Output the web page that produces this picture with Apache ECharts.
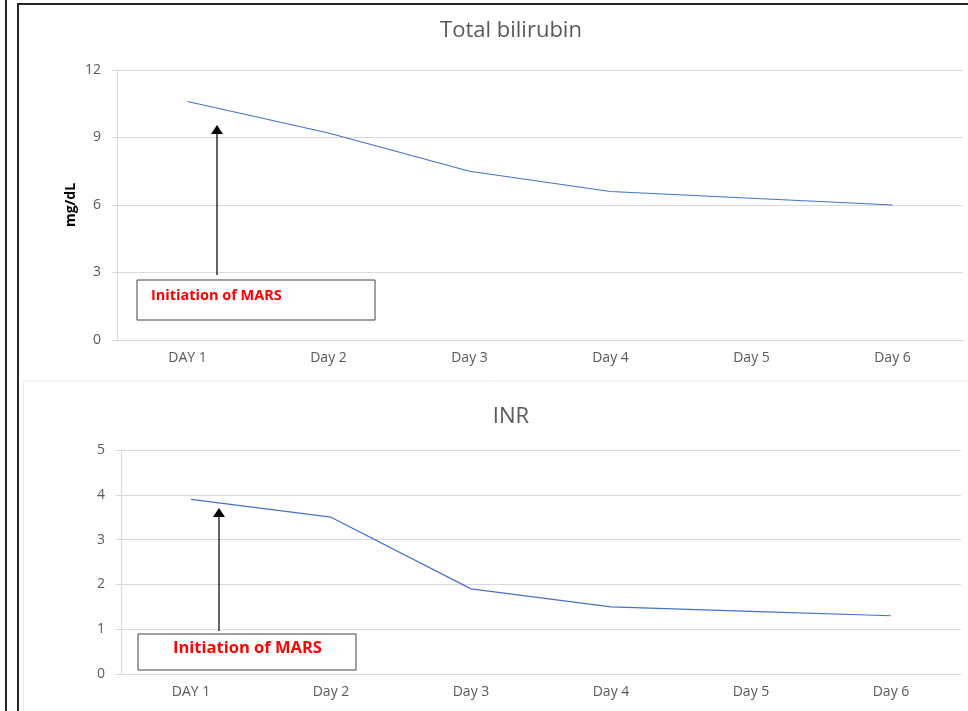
<!DOCTYPE html>
<html>
<head>
<meta charset="utf-8">
<script src="https://cdn.jsdelivr.net/npm/echarts@6/dist/echarts.min.js"></script>
<style>
  html, body { margin: 0; padding: 0; background: #fff; }
  #chart { width: 968px; height: 711px; }
</style>
</head>
<body>
<div id="chart"></div>
<script>
// 数据
var days = ['DAY 1', 'Day 2', 'Day 3', 'Day 4', 'Day 5', 'Day 6'];
var bilirubin = [10.6, 9.2, 7.5, 6.6, 6.3, 6.0];
var inr = [3.9, 3.5, 1.9, 1.5, 1.4, 1.3];
var bilirubinTicks = [0, 3, 6, 9, 12];
var inrTicks = [0, 1, 2, 3, 4, 5];

var labelColor = '#595959';
var gridColor = '#d9d9d9';
var lineColor = '#4472c4';
var font = 'Open Sans';

function makeYAxis(idx, ticks, name) {
    return {
        type: 'value',
        gridIndex: idx,
        min: ticks[0],
        max: ticks[ticks.length - 1],
        interval: ticks[1] - ticks[0],
        name: name,
        nameLocation: 'middle',
        nameRotate: 90,
        nameGap: 39,
        nameMoveOverlap: false,
        nameTextStyle: { color: '#000', fontWeight: 'bold', fontSize: 14, fontFamily: font },
        axisLine: { show: true, lineStyle: { color: gridColor } },
        axisTick: { show: true, length: 5, lineStyle: { color: gridColor } },
        axisLabel: { color: labelColor, fontSize: 14, fontFamily: font, margin: 16 },
        splitLine: { lineStyle: { color: gridColor } }
    };
}

function makeXAxis(idx) {
    return {
        type: 'category',
        gridIndex: idx,
        data: days,
        boundaryGap: true,
        axisLine: { lineStyle: { color: gridColor } },
        axisTick: { show: false },
        axisLabel: { color: labelColor, fontSize: 14, fontFamily: font, margin: 11 }
    };
}

// 注释框 + 箭头
function annotation(box, textPos, fontSize, arrowX, arrowTop, arrowBottom) {
    return [
        {
            type: 'rect',
            shape: { x: box[0], y: box[1], width: box[2], height: box[3] },
            style: { fill: '#fff', stroke: '#404040', lineWidth: 1 },
            z: 10
        },
        {
            type: 'text',
            x: textPos[0], y: textPos[1],
            style: { text: 'Initiation of MARS', fill: '#ff0000', font: 'bold ' + fontSize + 'px "Open Sans"', textVerticalAlign: 'middle' },
            z: 11
        },
        {
            type: 'line',
            shape: { x1: arrowX, y1: arrowTop + 8, x2: arrowX, y2: arrowBottom },
            style: { stroke: '#000', lineWidth: 1.2 },
            z: 10
        },
        {
            type: 'polygon',
            shape: { points: [[arrowX, arrowTop], [arrowX - 6, arrowTop + 9], [arrowX + 6, arrowTop + 9]] },
            style: { fill: '#000' },
            z: 10
        }
    ];
}

var frame = [
    { type: 'line', shape: { x1: 6, y1: 0, x2: 6, y2: 711 }, style: { stroke: '#262626', lineWidth: 2 } },
    { type: 'line', shape: { x1: 18, y1: 4, x2: 18, y2: 711 }, style: { stroke: '#262626', lineWidth: 2 } },
    { type: 'line', shape: { x1: 17, y1: 4, x2: 968, y2: 4 }, style: { stroke: '#262626', lineWidth: 2 } },
    { type: 'line', shape: { x1: 23, y1: 381, x2: 968, y2: 381 }, style: { stroke: '#ececec', lineWidth: 1 } },
    { type: 'line', shape: { x1: 23.5, y1: 381, x2: 23.5, y2: 711 }, style: { stroke: '#ececec', lineWidth: 1 } }
];

var graphics = frame
    .concat(annotation([137, 280, 238, 40], [151, 296], 14.5, 217, 125, 275))
    .concat(annotation([138, 634, 218, 36], [173, 648], 16.5, 219, 508, 631));

var option = {
    backgroundColor: '#fff',
    animation: false,
    title: [
        {
            text: 'Total bilirubin',
            left: 506, top: 15, textAlign: 'center',
            textStyle: { color: labelColor, fontSize: 22, fontWeight: 'normal', fontFamily: font }
        },
        {
            text: 'INR',
            left: 506, top: 401, textAlign: 'center',
            textStyle: { color: labelColor, fontSize: 22, fontWeight: 'normal', fontFamily: font }
        }
    ],
    grid: [
        { left: 117, top: 70, right: 5, bottom: 371 },
        { left: 121, top: 450, right: 7, bottom: 37 }
    ],
    xAxis: [makeXAxis(0), makeXAxis(1)],
    yAxis: [makeYAxis(0, bilirubinTicks, 'mg/dL'), makeYAxis(1, inrTicks, '')],
    series: [
        {
            name: 'Total bilirubin',
            type: 'line',
            xAxisIndex: 0, yAxisIndex: 0,
            data: bilirubin,
            symbol: 'none',
            lineStyle: { color: lineColor, width: 1.2 }
        },
        {
            name: 'INR',
            type: 'line',
            xAxisIndex: 1, yAxisIndex: 1,
            data: inr,
            symbol: 'none',
            lineStyle: { color: lineColor, width: 1.2 }
        }
    ],
    graphic: graphics
};

var chart = echarts.init(document.getElementById('chart'));
chart.setOption(option);
</script>
</body>
</html>
